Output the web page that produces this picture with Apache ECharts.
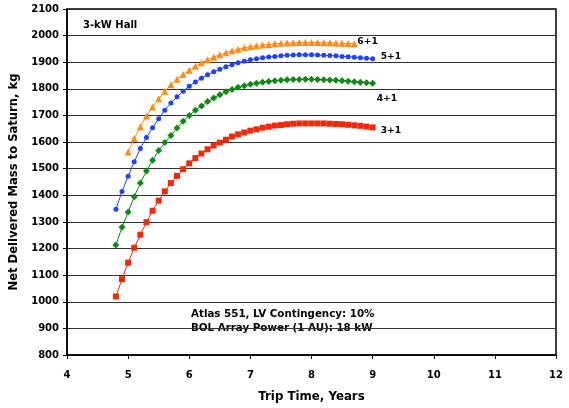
<!DOCTYPE html>
<html><head><meta charset="utf-8">
<script src="https://cdn.jsdelivr.net/npm/echarts@6/dist/echarts.min.js"></script>
<style>html,body{margin:0;padding:0;background:#fff}#c{width:569px;height:408px}</style>
</head><body><div id="c"></div>
<script>
// Trip time (years) for 3+1, 4+1, 5+1 cases
const tripYears = [4.8,4.9,5.0,5.1,5.2,5.3,5.4,5.5,5.6,5.7,5.8,5.9,6.0,6.1,6.2,6.3,6.4,6.5,6.6,6.7,6.8,6.9,7.0,7.1,7.2,7.3,7.4,7.5,7.6,7.7,7.8,7.9,8.0,8.1,8.2,8.3,8.4,8.5,8.6,8.7,8.8,8.9,9.0];
// Trip time (years) for 6+1 case
const tripYears61 = [5.0,5.1,5.2,5.3,5.4,5.5,5.6,5.7,5.8,5.9,6.0,6.1,6.2,6.3,6.4,6.5,6.6,6.7,6.8,6.9,7.0,7.1,7.2,7.3,7.4,7.5,7.6,7.7,7.8,7.9,8.0,8.1,8.2,8.3,8.4,8.5,8.6,8.7];

const mass31 = [1020,1085,1147,1203,1252,1299,1342,1380,1415,1446,1473,1498,1520,1540,1557,1573,1587,1598,1609,1621,1629,1636,1643,1648,1654,1658,1662,1664,1667,1669,1670,1670,1670,1670,1670,1669,1668,1667,1665,1663,1661,1658,1655];
const mass41 = [1213,1280,1337,1395,1446,1491,1532,1568,1598,1625,1653,1678,1700,1720,1736,1752,1766,1778,1789,1798,1806,1812,1817,1821,1825,1828,1830,1832,1834,1835,1835,1836,1836,1835,1834,1833,1832,1830,1829,1827,1825,1823,1821];
const mass51 = [1348,1414,1472,1526,1576,1617,1654,1688,1720,1747,1770,1791,1810,1826,1840,1853,1864,1874,1883,1891,1898,1904,1909,1913,1917,1920,1922,1924,1926,1927,1928,1928,1928,1927,1926,1925,1924,1922,1921,1919,1917,1915,1913];
const mass61 = [1563,1613,1658,1698,1732,1763,1791,1815,1836,1854,1870,1885,1898,1909,1919,1928,1936,1943,1949,1954,1958,1962,1965,1967,1969,1971,1972,1973,1974,1974,1974,1974,1973,1973,1972,1971,1970,1969];

const seriesNames = ['6+1','5+1','4+1','3+1'];
const xTicks = [4,5,6,7,8,9,10,11,12];
const yTicks = [800,900,1000,1100,1200,1300,1400,1500,1600,1700,1800,1900,2000,2100];

const FONT = 'DejaVu Sans';
const pairs = (xs, ys) => xs.map((x, i) => [x, ys[i]]);

const chart = echarts.init(document.getElementById('c'), null, {renderer: 'canvas'});

function mk(name, xs, ys, color, symbol, size, labelOffset) {
  return {
    name: name, type: 'line', data: pairs(xs, ys),
    symbol: symbol, symbolSize: size, showSymbol: true, showAllSymbol: true,
    lineStyle: {color: color, width: 1},
    itemStyle: {color: color, borderWidth: 0},
    emphasis: {disabled: true},
    endLabel: {show: true, formatter: name, color: '#000', fontFamily: FONT, fontWeight: 'bold', fontSize: 9.2, distance: 3, offset: labelOffset},
    z: 3
  };
}

chart.setOption({
  animation: false,
  backgroundColor: '#fff',
  textStyle: {fontFamily: FONT},
  grid: {left: 67, right: 13, top: 9, bottom: 51, show: true, borderColor: '#000', borderWidth: 1.5, backgroundColor: 'transparent'},
  xAxis: {
    type: 'value', min: xTicks[0], max: xTicks[xTicks.length-1], interval: 1,
    name: 'Trip Time, Years', nameLocation: 'middle', nameGap: 36,
    nameTextStyle: {color: '#000', fontFamily: FONT, fontWeight: 'bold', fontSize: 11.8},
    axisLine: {show: true, lineStyle: {color: '#000', width: 1.5}},
    axisTick: {show: true, length: 4, inside: false, lineStyle: {color: '#000'}},
    axisLabel: {color: '#000', fontFamily: FONT, fontWeight: 'bold', fontSize: 10, margin: 15},
    splitLine: {show: false}
  },
  yAxis: {
    type: 'value', min: yTicks[0], max: yTicks[yTicks.length-1], interval: 100,
    name: 'Net Delivered Mass to Saturn, kg', nameLocation: 'middle', nameGap: 39,
    nameTextStyle: {color: '#000', fontFamily: FONT, fontWeight: 'bold', fontSize: 11.6},
    axisLine: {show: true, lineStyle: {color: '#000', width: 1.5}},
    axisTick: {show: true, length: 4, inside: false, lineStyle: {color: '#000'}},
    axisLabel: {color: '#000', fontFamily: FONT, fontWeight: 'bold', fontSize: 10, margin: 8, formatter: v => String(v)},
    splitLine: {show: true, lineStyle: {color: '#333', width: 1}}
  },
  series: [
    mk(seriesNames[0], tripYears61, mass61, '#FF8A14', 'triangle', 7, [0, -2]),
    mk(seriesNames[1], tripYears, mass51, '#2140FF', 'circle', 5, [5, -2]),
    mk(seriesNames[2], tripYears, mass41, '#0E8A14', 'diamond', 7, [1, 15]),
    mk(seriesNames[3], tripYears, mass31, '#EE2A0A', 'rect', 6, [5, 3])
  ],
  graphic: [
    {type: 'text', left: 83, top: 20, style: {text: '3-kW Hall', fill: '#000', font: 'bold 10px "DejaVu Sans"'}},
    {type: 'text', left: 191, top: 307, style: {text: 'Atlas 551, LV Contingency: 10%\nBOL Array Power (1 AU): 18 kW', fill: '#000', font: 'bold 10.3px "DejaVu Sans"', lineHeight: 14}}
  ]
});
</script>
</body></html>
